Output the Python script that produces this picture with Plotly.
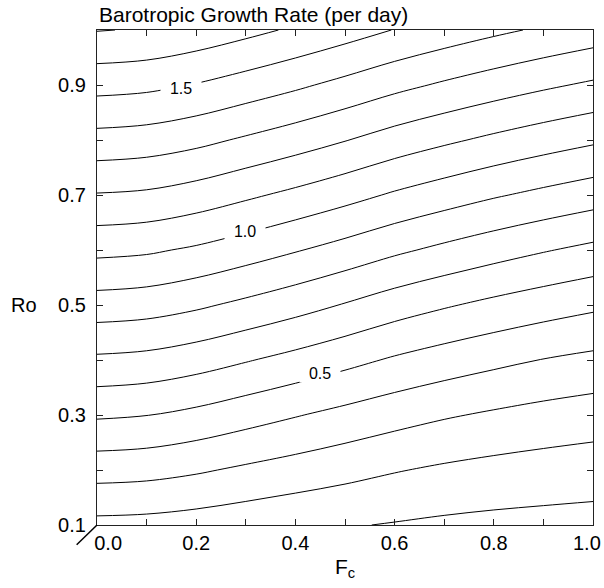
import plotly.graph_objects as go

# ---- data ----
Fc = [0.0, 0.1, 0.2, 0.3, 0.4, 0.5, 0.6, 0.7, 0.8, 0.9, 1.0]
Ro = [0.1, 0.2, 0.3, 0.4, 0.5, 0.6, 0.7, 0.8, 0.9, 1.0]

# growth rate (per day); one row per Ro value, one column per Fc value
growth_rate = [
    [0.172, 0.167, 0.154, 0.137, 0.120, 0.107, 0.094, 0.082, 0.074, 0.069, 0.065],
    [0.341, 0.333, 0.312, 0.284, 0.258, 0.232, 0.206, 0.185, 0.169, 0.157, 0.147],
    [0.513, 0.502, 0.476, 0.441, 0.406, 0.372, 0.339, 0.310, 0.287, 0.267, 0.251],
    [0.682, 0.671, 0.644, 0.607, 0.569, 0.529, 0.488, 0.454, 0.424, 0.397, 0.376],
    [0.855, 0.844, 0.816, 0.778, 0.738, 0.694, 0.648, 0.610, 0.576, 0.546, 0.519],
    [1.025, 1.014, 0.986, 0.948, 0.907, 0.864, 0.818, 0.778, 0.741, 0.707, 0.676],
    [1.194, 1.184, 1.156, 1.117, 1.077, 1.034, 0.988, 0.948, 0.910, 0.877, 0.846],
    [1.364, 1.353, 1.326, 1.287, 1.247, 1.204, 1.157, 1.117, 1.080, 1.046, 1.015],
    [1.534, 1.523, 1.495, 1.457, 1.417, 1.373, 1.327, 1.287, 1.250, 1.216, 1.185],
    [1.704, 1.693, 1.665, 1.627, 1.586, 1.543, 1.497, 1.457, 1.420, 1.386, 1.355],
]

contour_start, contour_end, contour_step = 0.1, 1.7, 0.1

# contour labels (value, Fc position, Ro position)
label_values = ["1.5", "1.0", "0.5"]
label_fc = [0.169, 0.298, 0.450]
label_ro = [0.894, 0.634, 0.376]

x_tickvals = [0.0, 0.1, 0.2, 0.3, 0.4, 0.5, 0.6, 0.7, 0.8, 0.9, 1.0]
x_ticktext = ["\u00a0\u00a0\u00a0\u00a00.0", "", "0.2", "", "0.4", "", "0.6", "", "0.8", "", ""]
x_last_label = "1.0"
y_tickvals = [0.1, 0.2, 0.3, 0.4, 0.5, 0.6, 0.7, 0.8, 0.9, 1.0]
y_ticktext = ["0.1", "", "0.3", "", "0.5", "", "0.7", "", "0.9", ""]

FONT = "Liberation Sans, Arial, Helvetica, sans-serif"

fig = go.Figure()
fig.add_trace(go.Contour(
    x=Fc, y=Ro, z=growth_rate,
    autocontour=False,
    contours=dict(start=contour_start, end=contour_end + 1e-6, size=contour_step,
                  coloring="none", showlabels=False),
    line=dict(color="black", width=1, smoothing=1.0),
    showscale=False, hoverinfo="skip",
))

for txt, fx, ry in zip(label_values, label_fc, label_ro):
    fig.add_annotation(x=fx, y=ry, xref="x", yref="y",
                       text="\u00a0\u00a0" + txt + "\u00a0\u00a0",
                       showarrow=False, bgcolor="white", borderpad=0,
                       font=dict(family=FONT, size=16, color="black"))

axis_common = dict(showgrid=False, zeroline=False, showline=True, linecolor="#222",
                   linewidth=1.2, mirror="allticks", ticks="inside", ticklen=6,
                   tickcolor="#222", tickwidth=1, ticklabeloverflow="allow",
                   automargin=False,
                   tickfont=dict(family=FONT, size=20, color="black"))

fig.update_xaxes(range=[0, 1], tickmode="array", tickvals=x_tickvals,
                 ticktext=x_ticktext, **axis_common)
fig.update_yaxes(range=[0.1, 1.0], tickmode="array", tickvals=y_tickvals,
                 ticktext=y_ticktext, ticklabelstandoff=6, **axis_common)

# last x tick label, pulled inside the figure edge as in the reference
fig.add_annotation(x=x_tickvals[-1], y=-0.037, xref="x", yref="paper",
                   xanchor="right", yanchor="middle", xshift=10, showarrow=False,
                   text=x_last_label, font=dict(family=FONT, size=20, color="black"))

# title, axis labels
fig.add_annotation(x=0, y=1.0323, xref="paper", yref="paper", xanchor="left",
                   yanchor="middle", showarrow=False,
                   text="Barotropic Growth Rate (per day)",
                   font=dict(family=FONT, size=21, color="black"))
fig.add_annotation(x=-0.148, y=0.5, xref="paper", yref="y", xanchor="center",
                   yanchor="middle", showarrow=False, text="Ro",
                   font=dict(family=FONT, size=20, color="black"))
fig.add_annotation(x=0.5, y=-0.087, xref="paper", yref="paper", xanchor="center",
                   yanchor="middle", showarrow=False, text="F<sub>c</sub>",
                   font=dict(family=FONT, size=21, color="black"))

# axis-break slash at the lower-left corner
fig.add_shape(type="line", xref="paper", yref="paper", x0=-0.041, y0=-0.04,
              x1=0.0, y1=0.0, line=dict(color="black", width=1.5))

fig.update_layout(
    width=604, height=588,
    margin=dict(l=97, r=11, t=30, b=63, autoexpand=False),
    paper_bgcolor="white", plot_bgcolor="white",
    showlegend=False,
)

fig.write_html("out.html", config={"displayModeBar": False},
               post_script="document.body.style.margin='0';document.body.style.padding='0';")
